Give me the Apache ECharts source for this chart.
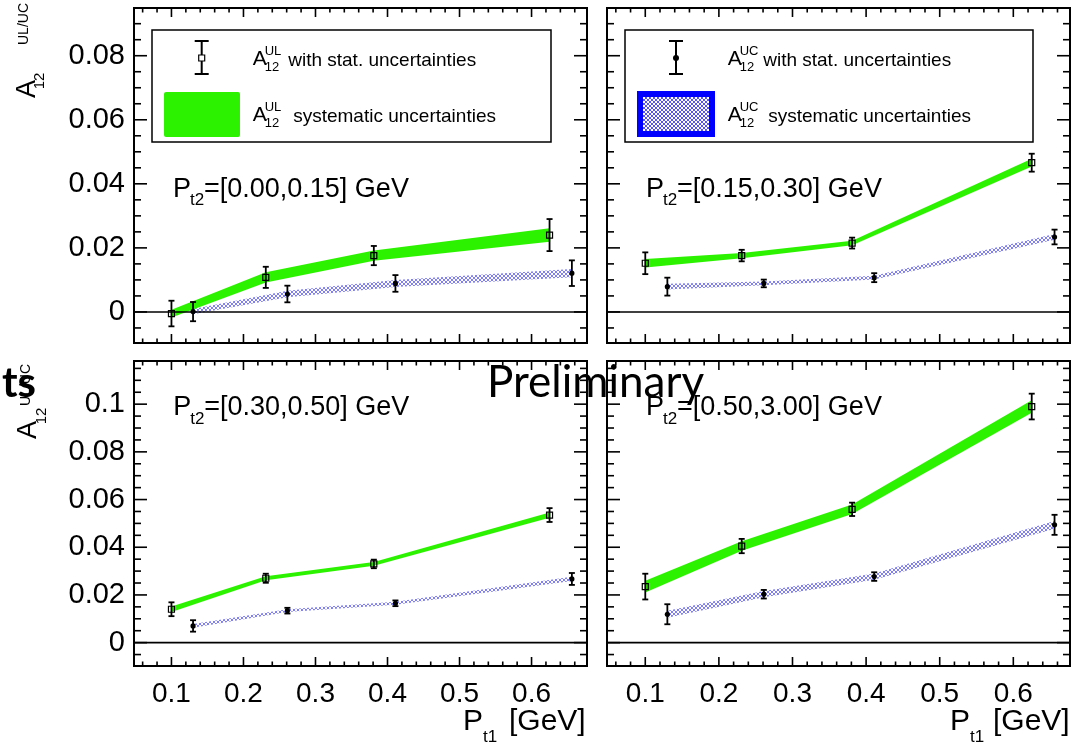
<!DOCTYPE html>
<html><head><meta charset="utf-8">
<script src="https://cdn.jsdelivr.net/npm/echarts@6/dist/echarts.min.js"></script>
<style>html,body{margin:0;padding:0;background:#fff}#c{width:1074px;height:747px}</style>
</head><body><div id="c"></div>
<script>
// ---------------- data ----------------
const xUL = [0.1, 0.231, 0.381, 0.625];
const xUC = [0.13, 0.261, 0.411, 0.656];
const panelRanges = ['[0.00,0.15] GeV', '[0.15,0.30] GeV', '[0.30,0.50] GeV', '[0.50,3.00] GeV'];

const ulY1 = [-0.0005, 0.0108, 0.0176, 0.0240];
const ulStat1 = [0.0040, 0.0033, 0.0030, 0.0050];
const ulSys1 = [0.0012, 0.0016, 0.0016, 0.0021];
const ucY1 = [0.0001, 0.0056, 0.0089, 0.0121];
const ucStat1 = [0.0030, 0.0026, 0.0026, 0.0040];
const ucSys1 = [0.0008, 0.0010, 0.0011, 0.0013];

const ulY2 = [0.0152, 0.0176, 0.0215, 0.0466];
const ulStat2 = [0.0034, 0.0018, 0.0017, 0.0028];
const ulSys2 = [0.0013, 0.0008, 0.0007, 0.0012];
const ucY2 = [0.0079, 0.0089, 0.0107, 0.0234];
const ucStat2 = [0.0028, 0.0012, 0.0014, 0.0023];
const ucSys2 = [0.0009, 0.0006, 0.0006, 0.0009];

const ulY3 = [0.0140, 0.0270, 0.0330, 0.0535];
const ulStat3 = [0.0029, 0.0019, 0.0018, 0.0029];
const ulSys3 = [0.0012, 0.0008, 0.0008, 0.0011];
const ucY3 = [0.0070, 0.0134, 0.0165, 0.0267];
const ucStat3 = [0.0024, 0.0012, 0.0012, 0.0025];
const ucSys3 = [0.0008, 0.0006, 0.0006, 0.0009];

const ulY4 = [0.0235, 0.0405, 0.0559, 0.0990];
const ulStat4 = [0.0054, 0.0030, 0.0028, 0.0054];
const ulSys4 = [0.0025, 0.0020, 0.0020, 0.0026];
const ucY4 = [0.0119, 0.0203, 0.0277, 0.0494];
const ucStat4 = [0.0042, 0.0018, 0.0018, 0.0042];
const ucSys4 = [0.0015, 0.0013, 0.0013, 0.0016];

// ---------------- ticks ----------------
const xTicks = [0.1, 0.2, 0.3, 0.4, 0.5, 0.6];
const xMinorTicks = [0.06, 0.08, 0.12, 0.14, 0.16, 0.18, 0.22, 0.24, 0.26, 0.28, 0.32, 0.34, 0.36, 0.38,
  0.42, 0.44, 0.46, 0.48, 0.52, 0.54, 0.56, 0.58, 0.62, 0.64, 0.66];
const yTicksTop = [0, 0.02, 0.04, 0.06, 0.08];
const yMinorTop = [-0.005, 0.005, 0.01, 0.015, 0.025, 0.03, 0.035, 0.045, 0.05, 0.055, 0.065, 0.07, 0.075, 0.085, 0.09];
const yTicksBottom = [0, 0.02, 0.04, 0.06, 0.08, 0.1];
const yMinorBottom = [-0.005, 0.005, 0.01, 0.015, 0.025, 0.03, 0.035, 0.045, 0.05, 0.055, 0.065, 0.07, 0.075,
  0.085, 0.09, 0.095, 0.105, 0.11, 0.115];

const X_RANGE = [0.048, 0.677];
const Y_RANGE_TOP = [-0.0097, 0.0949];
const Y_RANGE_BOTTOM = [-0.0098, 0.1181];

// ---------------- build ----------------
const FONT = '"Liberation Sans", Arial, Helvetica, sans-serif';
const GREEN = '#2cf200';
const panels = [
  {ul: ulY1, ulE: ulStat1, ulS: ulSys1, uc: ucY1, ucE: ucStat1, ucS: ucSys1},
  {ul: ulY2, ulE: ulStat2, ulS: ulSys2, uc: ucY2, ucE: ucStat2, ucS: ucSys2},
  {ul: ulY3, ulE: ulStat3, ulS: ulSys3, uc: ucY3, ucE: ucStat3, ucS: ucSys3},
  {ul: ulY4, ulE: ulStat4, ulS: ulSys4, uc: ucY4, ucE: ucStat4, ucS: ucSys4}
];
const gridBoxes = [
  {left: 134, top: 8, width: 453, height: 335},
  {left: 607, top: 8, width: 463, height: 335},
  {left: 134, top: 361, width: 453, height: 305},
  {left: 607, top: 361, width: 463, height: 305}
];

function makeHatch(color) {
  const c = document.createElement('canvas');
  c.width = 4; c.height = 4;
  const g = c.getContext('2d');
  g.fillStyle = color;
  for (let i = 0; i < 4; i++) { g.fillRect(i, i, 1, 1); g.fillRect(3 - i, i, 1, 1); }
  return {image: c, repeat: 'repeat'};
}
const hatchFill = makeHatch('rgba(50,50,255,0.62)');
const hatchLegend = makeHatch('rgba(40,40,255,0.8)');

const fmt = v => String(parseFloat(Number(v).toFixed(3)));

const grids = [], xAxes = [], yAxes = [], series = [];
gridBoxes.forEach((b, i) => {
  const isTop = i < 2;
  const yr = isTop ? Y_RANGE_TOP : Y_RANGE_BOTTOM;
  grids.push(Object.assign({show: true, borderColor: '#000', borderWidth: 2, backgroundColor: 'transparent', containLabel: false}, b));
  xAxes.push({gridIndex: i, type: 'value', min: X_RANGE[0], max: X_RANGE[1],
    axisLine: {show: false}, axisTick: {show: false}, splitLine: {show: false},
    axisLabel: {show: !isTop, customValues: xTicks, formatter: fmt, fontSize: 28, fontFamily: FONT, color: '#000', margin: 14}});
  yAxes.push({gridIndex: i, type: 'value', min: yr[0], max: yr[1],
    axisLine: {show: false}, axisTick: {show: false}, splitLine: {show: false},
    axisLabel: {show: i % 2 === 0, customValues: isTop ? yTicksTop : yTicksBottom, formatter: fmt, fontSize: 29, fontFamily: FONT, color: '#000', margin: 9}});

  const p = panels[i];
  const bandItem = (xs, ys, ss) => { const a = []; xs.forEach((x, k) => a.push(x, ys[k], ss[k])); return a; };
  const bandRender = (fill) => function (params, api) {
    const up = [], lo = [];
    for (let k = 0; k < 4; k++) {
      const x = api.value(3 * k), y = api.value(3 * k + 1), s = api.value(3 * k + 2);
      up.push(api.coord([x, y + s]));
      lo.push(api.coord([x, y - s]));
    }
    return {type: 'polygon', shape: {points: up.concat(lo.reverse())}, style: {fill: fill, stroke: null}};
  };
  series.push({type: 'custom', xAxisIndex: i, yAxisIndex: i, z: 2, silent: true,
    data: [bandItem(xUL, p.ul, p.ulS)], renderItem: bandRender(GREEN)});
  series.push({type: 'custom', xAxisIndex: i, yAxisIndex: i, z: 2, silent: true,
    data: [bandItem(xUC, p.uc, p.ucS)], renderItem: bandRender(hatchFill)});

  const tickData = [];
  xTicks.forEach(v => tickData.push([v, 0, 1]));
  xMinorTicks.forEach(v => tickData.push([v, 0, 0]));
  (isTop ? yTicksTop : yTicksBottom).forEach(v => tickData.push([v, 1, 1]));
  (isTop ? yMinorTop : yMinorBottom).forEach(v => tickData.push([v, 1, 0]));
  tickData.push([0, 2, 0]);
  series.push({type: 'custom', xAxisIndex: i, yAxisIndex: i, z: 3, silent: true, data: tickData,
    renderItem: function (params, api) {
      const cs = params.coordSys;
      const v = api.value(0), t = api.value(1), major = api.value(2);
      const st = {stroke: '#000', lineWidth: 1.6};
      if (t === 0) {
        const px = api.coord([v, 0])[0];
        const len = major ? 9 : 4.5;
        const yb = cs.y + cs.height, yt = cs.y;
        return {type: 'group', children: [
          {type: 'line', shape: {x1: px, y1: yb, x2: px, y2: yb - len}, style: st},
          {type: 'line', shape: {x1: px, y1: yt, x2: px, y2: yt + len}, style: st}]};
      } else if (t === 1) {
        const py = api.coord([X_RANGE[0], v])[1];
        const len = major ? 13 : 7;
        const xl = cs.x, xr = cs.x + cs.width;
        return {type: 'group', children: [
          {type: 'line', shape: {x1: xl, y1: py, x2: xl + len, y2: py}, style: st},
          {type: 'line', shape: {x1: xr, y1: py, x2: xr - len, y2: py}, style: st}]};
      } else {
        const py = api.coord([X_RANGE[0], 0])[1];
        return {type: 'line', shape: {x1: cs.x, y1: py, x2: cs.x + cs.width, y2: py}, style: {stroke: '#000', lineWidth: 1.6}};
      }
    }});

  const errData = [];
  xUL.forEach((x, k) => errData.push([x, p.ul[k], p.ulE[k], 0]));
  xUC.forEach((x, k) => errData.push([x, p.uc[k], p.ucE[k], 1]));
  series.push({type: 'custom', xAxisIndex: i, yAxisIndex: i, z: 4, silent: true, data: errData,
    renderItem: function (params, api) {
      const x = api.value(0), y = api.value(1), e = api.value(2), kind = api.value(3);
      const c = api.coord([x, y]), a = api.coord([x, y + e]), b = api.coord([x, y - e]);
      const st = {stroke: '#000', lineWidth: 1.8};
      const ch = [
        {type: 'line', shape: {x1: c[0], y1: a[1], x2: c[0], y2: b[1]}, style: st},
        {type: 'line', shape: {x1: c[0] - 3, y1: a[1], x2: c[0] + 3, y2: a[1]}, style: st},
        {type: 'line', shape: {x1: c[0] - 3, y1: b[1], x2: c[0] + 3, y2: b[1]}, style: st}
      ];
      if (kind === 0) ch.push({type: 'rect', shape: {x: c[0] - 3, y: c[1] - 3, width: 6, height: 6}, style: {fill: 'rgba(255,255,255,0)', stroke: '#000', lineWidth: 1.2}});
      else ch.push({type: 'circle', shape: {cx: c[0], cy: c[1], r: 2.6}, style: {fill: '#000'}});
      return {type: 'group', children: ch};
    }});
});

// ---------------- text / legends ----------------
const G = [];
function txt(x, y, text, size, o) {
  o = o || {};
  G.push({type: 'text', x: x, y: y, rotation: o.rot || 0, z: 100, silent: true,
    style: {text: text, fontSize: size, fontFamily: o.family || FONT, fontWeight: o.weight || 'normal', fill: '#000',
      align: o.align || 'left', textAlign: o.align || 'left',
      verticalAlign: o.va || 'middle', textVerticalAlign: o.va || 'middle'}});
}
function legend(bx, sup, iconKind) {
  G.push({type: 'rect', z: 90, silent: true, shape: {x: bx, y: 30, width: iconKind ? 408 : 399, height: 112},
    style: {fill: '#fff', stroke: '#000', lineWidth: 1.5}});
  const ix = iconKind ? 676 : 201.7;
  const st = {stroke: '#000', lineWidth: 2};
  G.push({type: 'line', z: 95, silent: true, shape: {x1: ix, y1: 41, x2: ix, y2: 74}, style: st});
  G.push({type: 'line', z: 95, silent: true, shape: {x1: ix - 7, y1: 41, x2: ix + 7, y2: 41}, style: st});
  G.push({type: 'line', z: 95, silent: true, shape: {x1: ix - 7, y1: 74, x2: ix + 7, y2: 74}, style: st});
  if (iconKind) G.push({type: 'circle', z: 96, silent: true, shape: {cx: ix, cy: 58, r: 3}, style: {fill: '#000'}});
  else G.push({type: 'rect', z: 96, silent: true, shape: {x: ix - 3, y: 55, width: 6, height: 6}, style: {fill: '#fff', stroke: '#000', lineWidth: 1.2}});
  if (iconKind) G.push({type: 'rect', z: 95, silent: true, shape: {x: 640, y: 94, width: 72, height: 40}, style: {fill: hatchLegend, stroke: '#0000ff', lineWidth: 6}});
  else G.push({type: 'rect', z: 95, silent: true, shape: {x: 166, y: 94, width: 72, height: 41}, style: {fill: GREEN, stroke: GREEN, lineWidth: 4, lineJoin: 'round'}});
  const ax = iconKind ? 727.7 : 252.7;
  [[59.5, 'with stat. uncertainties', 35.5], [115.5, 'systematic uncertainties', 40.5]].forEach(r => {
    txt(ax, r[0], 'A', 21);
    txt(ax + 12, r[0] - 8.5, sup, 13);
    txt(ax + 12, r[0] + 7.5, '12', 13);
    txt(ax + r[2], r[0] + 1, r[1], 19);
  });
}
legend(152, 'UL', 0);
legend(625, 'UC', 1);

[[173, 189.5], [646, 189.5], [173.3, 408], [646, 408]].forEach((pos, i) => {
  txt(pos[0], pos[1], 'P', 27);
  txt(pos[0] + 17, pos[1] + 11, 't2', 17);
  txt(pos[0] + 31, pos[1], '=' + panelRanges[i], 27);
});

function yTitle(ax, ay, subx, suby, supx, supy) {
  txt(ax, ay, 'A', 27, {rot: Math.PI / 2, align: 'center'});
  txt(subx, suby, '12', 15, {rot: Math.PI / 2, align: 'center'});
  txt(supx, supy, 'UL/UC', 14, {rot: Math.PI / 2, align: 'center'});
}
yTitle(28, 89, 40, 81, 24, 24);
yTitle(29, 430, 42, 416, 26.5, 385);

[[463, 509], [950, 993]].forEach(p => {
  txt(p[0], 722, 'P', 30);
  txt(p[0] + 20, 737, 't1', 17);
  txt(p[1], 722, '[GeV]', 30);
});

txt(487, 383, 'Preliminary', 44, {family: 'Lato, "Open Sans", sans-serif'});
txt(2, 383, 'ts', 42, {family: 'Lato, "Open Sans", sans-serif', weight: 'bold'});

const chart = echarts.init(document.getElementById('c'), null, {renderer: 'canvas'});
chart.setOption({
  animation: false,
  backgroundColor: '#fff',
  grid: grids, xAxis: xAxes, yAxis: yAxes, series: series, graphic: {elements: G}
});
</script></body></html>
